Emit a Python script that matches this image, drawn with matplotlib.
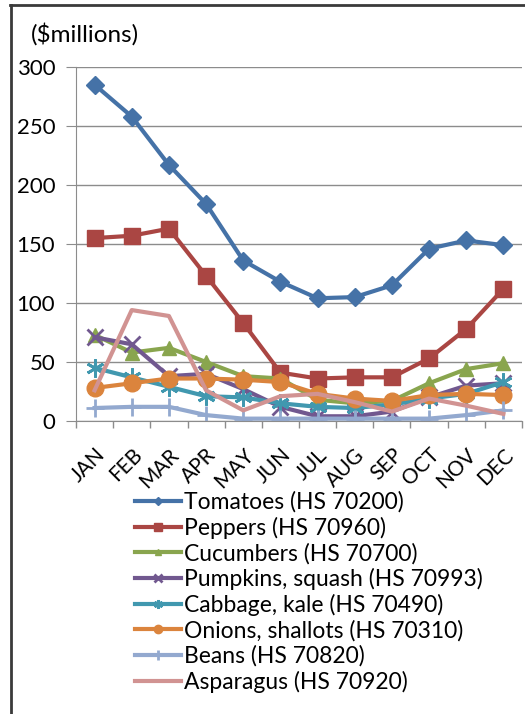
import matplotlib
matplotlib.use("Agg")
import matplotlib.pyplot as plt
from matplotlib.lines import Line2D

plt.rcParams['font.family'] = ['Lato', 'DejaVu Sans']

months = ['JAN', 'FEB', 'MAR', 'APR', 'MAY', 'JUN',
          'JUL', 'AUG', 'SEP', 'OCT', 'NOV', 'DEC']

tomatoes = [285, 258, 217, 184, 136, 118, 104, 105, 115, 146, 153, 149]
peppers = [155, 157, 163, 123, 83, 41, 36, 37, 37, 53, 78, 112]
cucumbers = [73, 58, 62, 50, 38, 36, 18, 15, 17, 32, 44, 49]
pumpkins = [71, 65, 38, 40, 27, 12, 4, 4, 8, 20, 30, 32]
cabbage = [45, 37, 29, 21, 20, 15, 12, 11, 14, 19, 23, 33]
onions = [28, 32, 36, 36, 35, 33, 23, 19, 17, 22, 23, 22]
beans = [11, 12, 12, 5, 2, 2, 2, 2, 2, 2, 5, 9]
asparagus = [26, 94, 89, 26, 9, 21, 23, 16, 8, 19, 13, 6]

labels = ['Tomatoes (HS 70200)', 'Peppers (HS 70960)', 'Cucumbers (HS 70700)',
          'Pumpkins, squash (HS 70993)', 'Cabbage, kale (HS 70490)',
          'Onions, shallots (HS 70310)', 'Beans (HS 70820)', 'Asparagus (HS 70920)']
colors = ['#4572A7', '#AA4643', '#89A54E', '#71588F',
          '#4198AF', '#DB843D', '#93A9CF', '#D19392']
series = [tomatoes, peppers, cucumbers, pumpkins, cabbage, onions, beans, asparagus]
markers = ['D', 's', '^', 'x', (6, 2, 0), 'o', '+', None]
msizes = [9, 11, 10, 11, 13, 12, 13, 0]

fig = plt.figure(figsize=(5.25, 7.14), dpi=100)
ax = fig.add_axes([76 / 525, 1 - 421 / 714, 446 / 525, 354 / 714])

x = list(range(len(months)))
for s, lab, c, m, ms in zip(series, labels, colors, markers, msizes):
    ax.plot(x, s, color=c, lw=3, marker=m, markersize=ms, label=lab,
            markeredgewidth=2 if m in ('x', '+', (6, 2, 0)) else 1,
            markeredgecolor=c)

ax.set_xlim(-0.5, 11.5)
ax.set_ylim(0, 300)
ax.set_yticks(range(0, 301, 50))
ax.yaxis.grid(True, color='#8c8c8c', lw=1)
ax.set_axisbelow(True)
ax.set_xticks(x)
ax.set_xticklabels(months, rotation=45, ha='right', rotation_mode='anchor', fontsize=15)
ax.set_xticks([i - 0.5 for i in range(13)], minor=True)
ax.tick_params(axis='x', which='major', length=0, pad=17)
ax.tick_params(axis='x', which='minor', length=5, color='#8c8c8c', width=1)
ax.tick_params(axis='y', length=7, color='#8c8c8c', labelsize=16, pad=8)
for side in ['top', 'right']:
    ax.spines[side].set_visible(False)
for side in ['left', 'bottom']:
    ax.spines[side].set_color('#8c8c8c')

fig.text(31 / 525, 1 - 34 / 714, '($millions)', fontsize=17.5, va='center', ha='left')

fig.legend(loc='upper left', bbox_to_anchor=(126 / 525, 1 - 482 / 714),
           frameon=False, fontsize=16.5, handlelength=2.0, handletextpad=0.15,
           labelspacing=0.17, markerscale=0.5, borderaxespad=0)

# frame lines (top and left)
fig.add_artist(Line2D([10 / 525, 1], [1 - 5 / 714, 1 - 5 / 714], color='#3a3a3a', lw=2))
fig.add_artist(Line2D([10.5 / 525, 10.5 / 525], [0, 1 - 5 / 714], color='#3a3a3a', lw=2))

fig.savefig('out.png', dpi=100)
